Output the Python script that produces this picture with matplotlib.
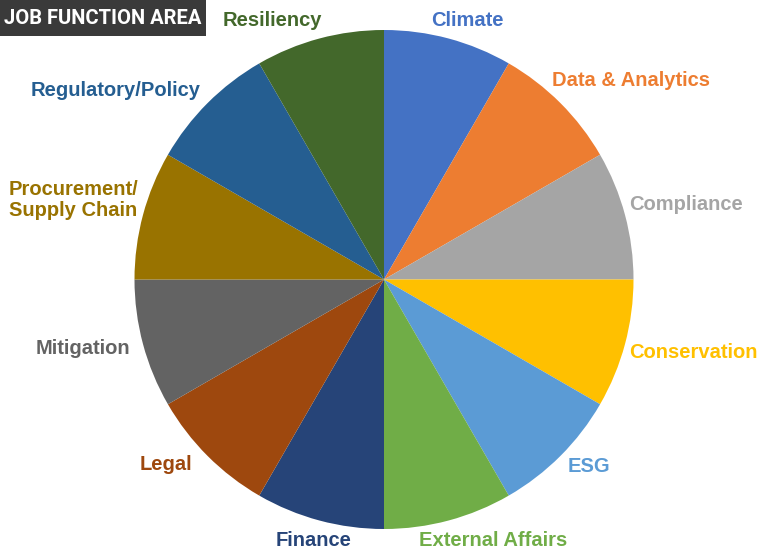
import matplotlib
matplotlib.use("Agg")
import matplotlib.pyplot as plt
from matplotlib.patches import Rectangle

categories = ["Climate", "Data & Analytics", "Compliance", "Conservation", "ESG",
              "External Affairs", "Finance", "Legal", "Mitigation",
              "Procurement/\nSupply Chain", "Regulatory/Policy", "Resiliency"]
values = [1, 1, 1, 1, 1, 1, 1, 1, 1, 1, 1, 1]
colors = ["#4472C4", "#ED7D31", "#A5A5A5", "#FFC000", "#5B9BD5", "#70AD47",
          "#264478", "#9E480E", "#636363", "#997300", "#255E91", "#43682B"]
title = "JOB FUNCTION AREA"

W, H = 768, 557
fig = plt.figure(figsize=(W / 100, H / 100), dpi=100)
ax = fig.add_axes([0, 0, 1, 1])

cx, cy, r = 384, H - 279.5, 249.5
ax.pie(values, colors=colors, startangle=90, counterclock=False,
       center=(cx, cy), radius=r,
       wedgeprops=dict(linewidth=0, edgecolor="none"))
ax.set_xlim(0, W)
ax.set_ylim(0, H)
ax.set_aspect("equal")
ax.axis("off")

# label placements (pixel coordinates, top-left origin)
label_pos = [(467, 21, "center"), (631, 81, "center"), (686, 204, "center"),
             (693, 353, "center"), (589, 467, "center"), (493, 541, "center"),
             (314, 540, "center"), (166, 464, "center"), (83, 348, "center"),
             (9, 200, "left"), (116, 90, "center"), (272, 21, "center")]
for cat, col, (x, y, ha) in zip(categories, colors, label_pos):
    ax.text(x, H - y, cat, color=col, ha=ha, va="center",
            fontsize=14.5, fontweight="bold", family=["Liberation Sans", "DejaVu Sans"],
            linespacing=1.15)

ax.add_patch(Rectangle((0, H - 36), 206, 36, facecolor="#3a3a3a", edgecolor="none"))
ax.text(103, H - 18, title, color="white", ha="center", va="center",
        fontsize=14.5, fontweight="bold", family=["Roboto", "DejaVu Sans"])

fig.savefig("out.png", dpi=100)
